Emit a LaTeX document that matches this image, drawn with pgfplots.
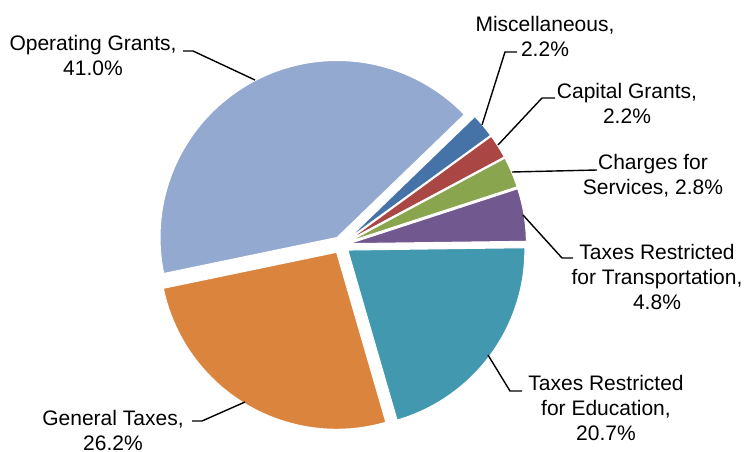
\documentclass[border=0pt]{standalone}
\usepackage{pgfplots}
\usepackage{pgfplotstable}
\pgfplotsset{compat=1.18}
\usepackage{fontspec}
\setmainfont{Liberation Sans}

\definecolor{c0}{HTML}{4572A7}
\definecolor{c1}{HTML}{AA4643}
\definecolor{c2}{HTML}{89A54E}
\definecolor{c3}{HTML}{71588F}
\definecolor{c4}{HTML}{4198AF}
\definecolor{c5}{HTML}{DB843D}
\definecolor{c6}{HTML}{93A9CF}

\pgfplotstableread{
label pct
Miscellaneous 2.2
CapitalGrants 2.2
ChargesForServices 2.8
TaxesTransportation 4.8
TaxesEducation 20.7
GeneralTaxes 26.2
OperatingGrants 41.0
}\piedata

\def\startangle{44}
\def\cx{341}
\def\cy{206}
\def\R{177}
\def\ex{8.5}

\tikzset{lbl/.style={font=\fontsize{10.5}{12.5}\selectfont, align=center, inner sep=0pt}}

% cumulative angles from the table
\xdef\total{0}%
\foreach \i in {0,...,6}{%
  \pgfplotstablegetelem{\i}{pct}\of\piedata
  \pgfmathsetmacro\tmp{\total+\pgfplotsretval}%
  \xdef\total{\tmp}%
}%
\xdef\cum{0}%
\foreach \i in {0,...,6}{%
  \pgfplotstablegetelem{\i}{pct}\of\piedata
  \pgfmathsetmacro\sa{\startangle-\cum/\total*360}%
  \pgfmathsetmacro\newcum{\cum+\pgfplotsretval}%
  \xdef\cum{\newcum}%
  \pgfmathsetmacro\ea{\startangle-\cum/\total*360}%
  \pgfmathsetmacro\md{(\sa+\ea)/2}%
  \pgfmathsetmacro\ox{\cx+\ex*cos(\md)}%
  \pgfmathsetmacro\oy{\cy+\ex*sin(\md)}%
  \expandafter\xdef\csname sa\i\endcsname{\sa}%
  \expandafter\xdef\csname ea\i\endcsname{\ea}%
  \expandafter\xdef\csname ox\i\endcsname{\ox}%
  \expandafter\xdef\csname oy\i\endcsname{\oy}%
}%

\begin{document}
\begin{tikzpicture}
\begin{axis}[
  x=0.5pt, y=0.5pt,
  xmin=0, xmax=745, ymin=0, ymax=451,
  hide axis, clip=false, scale only axis,
]
\coordinate (ll) at (axis cs:0,0);
\coordinate (ur) at (axis cs:745,451);
\pgfplotsinvokeforeach{0,...,6}{
  \edef\temp{\noexpand\addplot[draw=white, line width=0.5pt, fill=c#1, domain=\csname ea#1\endcsname:\csname sa#1\endcsname, samples=90, line join=round]
   ({\csname ox#1\endcsname+\R*cos(x)}, {\csname oy#1\endcsname+\R*sin(x)}) -- (axis cs:\csname ox#1\endcsname,\csname oy#1\endcsname) -- cycle;}
  \temp
}
% leader lines
\draw[black, line width=0.7pt] (axis cs:183,400) -- (axis cs:193,400) -- (axis cs:255,371);
\draw[black, line width=0.7pt] (axis cs:517,399) -- (axis cs:505,399) -- (axis cs:482,326);
\draw[black, line width=0.7pt] (axis cs:555,353) -- (axis cs:542,353) -- (axis cs:498,306);
\draw[black, line width=0.7pt] (axis cs:597,281) -- (axis cs:512,279);
\draw[black, line width=0.7pt] (axis cs:573,193) -- (axis cs:562,193) -- (axis cs:523,236);
\draw[black, line width=0.7pt] (axis cs:522,60) -- (axis cs:510,60) -- (axis cs:488,96);
\draw[black, line width=0.7pt] (axis cs:192,30) -- (axis cs:202,30) -- (axis cs:245,49);
% labels
\node[lbl] at (axis cs:93,395.5) {Operating Grants,\\41.0\%};
\node[lbl] at (axis cs:545,414.5) {Miscellaneous,\\2.2\%};
\node[lbl] at (axis cs:627,347.5) {Capital Grants,\\2.2\%};
\node[lbl] at (axis cs:653,275.5) {Charges for\\Services, 2.8\%};
\node[lbl] at (axis cs:657,174) {Taxes Restricted\\for Transportation,\\4.8\%};
\node[lbl] at (axis cs:606,43.5) {Taxes Restricted\\for Education,\\20.7\%};
\node[lbl] at (axis cs:113,21) {General Taxes,\\26.2\%};
\end{axis}
\pgfresetboundingbox
\path[use as bounding box] (ll) rectangle (ur);
\end{tikzpicture}
\end{document}
